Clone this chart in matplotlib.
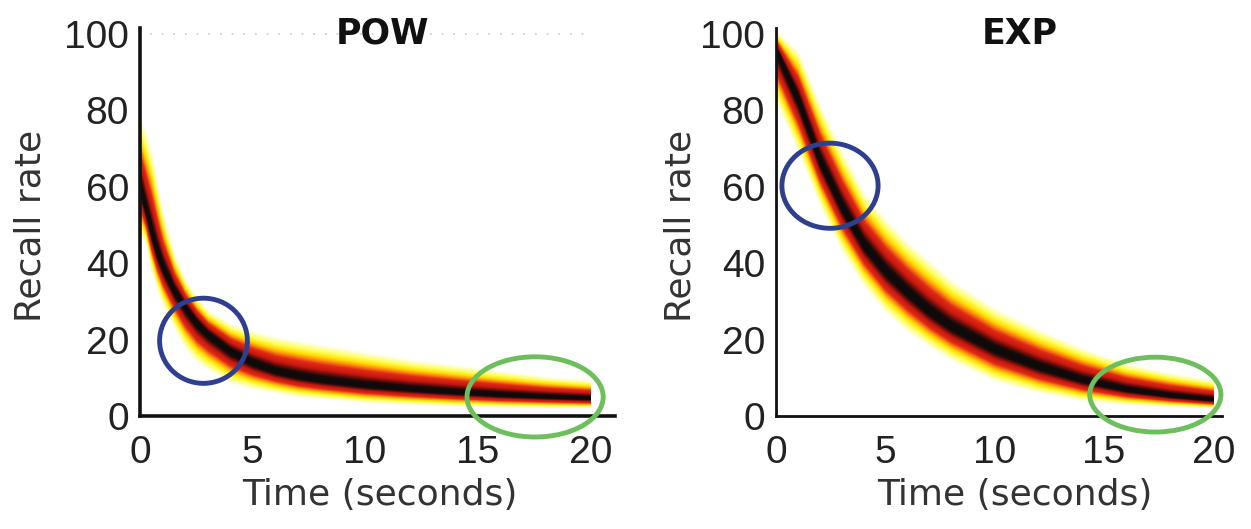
import matplotlib
matplotlib.use("Agg")
import matplotlib.pyplot as plt
from matplotlib.patches import Ellipse
from matplotlib.colors import LinearSegmentedColormap
import numpy as np

# values (time in seconds, recall rate in %)
pow_t = [0, 0.25, 0.5, 0.75, 1, 1.5, 2, 2.5, 3, 4, 5, 6, 7, 8, 10, 12, 14, 16, 18, 20]
pow_mid = [60, 54, 48, 43, 39, 33, 28.5, 24.5, 21.5, 17, 14, 11.8, 10.5, 9.5, 8.1, 7.1, 6.3, 5.6, 5.1, 4.7]
pow_hi = [79, 75, 70, 62, 54, 43, 36, 31.5, 28, 24.5, 22.5, 21, 20, 19, 17, 15, 13.5, 12, 10.5, 9.5]
pow_lo = [47, 45, 38, 33, 29, 23, 17.5, 14, 12, 8.5, 7, 6, 5, 4.5, 3.5, 3, 2.6, 2.3, 2.2, 2.1]

exp_t = [0, 1, 2, 3, 4, 5, 6, 7, 8, 10, 12, 14, 16, 18, 20]
exp_mid = [96, 83, 67, 55, 45, 38, 32.5, 27.5, 23.5, 17.5, 13, 9.5, 7, 5.4, 4.3]
exp_hi = [101, 96, 82, 70, 59, 52, 46, 41, 36, 28.5, 23, 18, 14, 11.5, 9.5]
exp_lo = [82, 69, 55, 43, 34, 27, 22, 18, 14.5, 9, 6, 4, 3, 2.5, 2.1]

# (center x, center y, width, height)
pow_blue = (2.82, 19.7, 3.9, 22.3)
pow_green = (17.55, 5.0, 6.05, 21)
exp_blue = (2.47, 60.3, 4.4, 22.3)
exp_green = (17.35, 5.6, 6.0, 19.6)

y_ticks = [0, 20, 40, 60, 80, 100]
x_ticks = [0, 5, 10, 15, 20]

fig = plt.figure(figsize=(12.51, 5.29), dpi=100)
ax1 = fig.add_axes([140 / 1251, 113 / 529, 475 / 1251, 388 / 529])
ax2 = fig.add_axes([776 / 1251, 113 / 529, 446 / 1251, 388 / 529])

# black core -> red -> yellow -> white, like the density map in the figure
band_cmap = LinearSegmentedColormap.from_list("band", [
    (0.0, "#0d0a0a"), (0.12, "#140b0a"), (0.22, "#7a100a"), (0.3, "#c8180f"),
    (0.44, "#e02a18"), (0.56, "#ff9010"), (0.66, "#ffe000"), (0.8, "#ffff60"),
    (1.0, "#ffffff")])


def draw_band(ax, t, mid, hi, lo):
    t = np.array(t)
    mid = np.array(mid)
    hi = np.array(hi)
    lo = np.array(lo)
    for f in np.linspace(1, 0.02, 60):
        ax.fill_between(t, mid + f * (hi - mid), mid - f * (mid - lo),
                        color=band_cmap(f), linewidth=0, zorder=2)


def style(ax, xmax, title, title_x, lw, label_x, ylab_x):
    ax.set_xlim(0, xmax)
    ax.set_ylim(0, 101.6)
    for s in ["top", "right"]:
        ax.spines[s].set_visible(False)
    for s in ["left", "bottom"]:
        ax.spines[s].set_linewidth(lw)
        ax.spines[s].set_color("#111111")
        ax.spines[s].set_zorder(5)
    ax.set_xticks(x_ticks)
    ax.set_yticks(y_ticks)
    ax.tick_params(length=0, labelsize=28, colors="#222222")
    ax.tick_params(axis="x", pad=14)
    ax.tick_params(axis="y", pad=8)
    for lab in ax.get_xticklabels() + ax.get_yticklabels():
        lab.set_fontfamily("Liberation Sans")
    ax.set_xlabel("Time (seconds)", fontsize=26, color="#333333")
    ax.set_ylabel("Recall rate", fontsize=26, color="#333333")
    ax.xaxis.set_label_coords(label_x, -0.16)
    ax.yaxis.set_label_coords(ylab_x, 0.49)
    ax.text(title_x, 0.985, title, transform=ax.transAxes, ha="center", va="center",
            fontsize=25, fontweight="bold", color="#111111")


def ring(ax, e, color):
    ax.add_patch(Ellipse((e[0], e[1]), e[2], e[3], fill=False, edgecolor=color,
                         linewidth=3.5, zorder=6, clip_on=False))


draw_band(ax1, pow_t, pow_mid, pow_hi, pow_lo)
draw_band(ax2, exp_t, exp_mid, exp_hi, exp_lo)

ax1.axhline(100, xmin=0.02, xmax=0.95, color="#c8c8c8", linestyle=(0, (1, 6)), linewidth=1.2)

style(ax1, 21.1, "POW", 0.51, 2.6, 0.505, -0.194)
style(ax2, 20.4, "EXP", 0.547, 2.0, 0.536, -0.175)

ring(ax1, pow_blue, "#2f3f8f")
ring(ax1, pow_green, "#6cbf5a")
ring(ax2, exp_blue, "#2f3f8f")
ring(ax2, exp_green, "#6cbf5a")

fig.savefig("out.png", dpi=100)
